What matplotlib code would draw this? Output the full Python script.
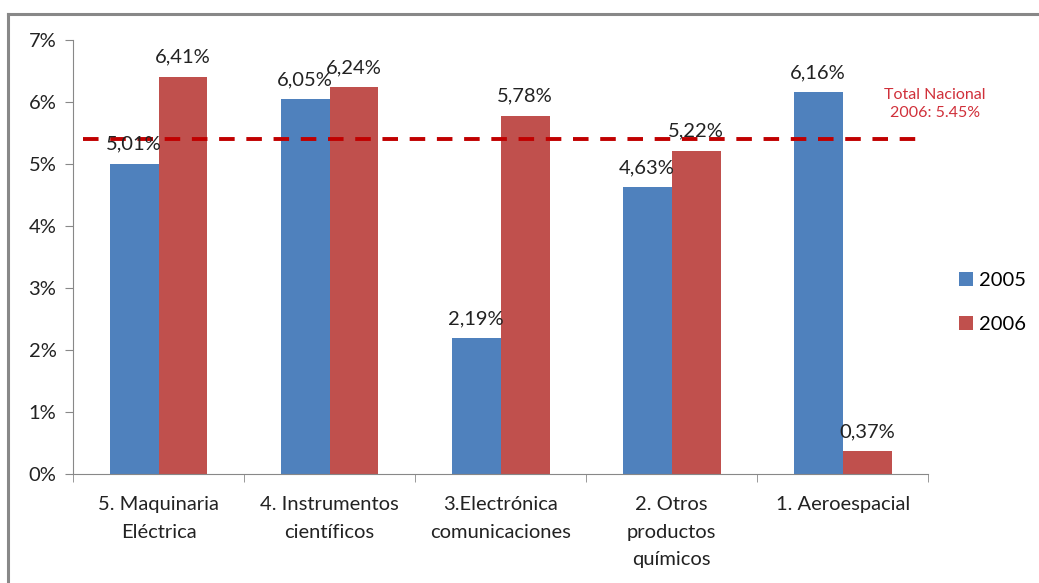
import matplotlib
matplotlib.use("Agg")
import matplotlib.pyplot as plt
from matplotlib.lines import Line2D
import numpy as np

# data
categorias = ["5. Maquinaria\nEléctrica", "4. Instrumentos\ncientíficos",
              "3.Electrónica\ncomunicaciones", "2. Otros\nproductos\nquímicos",
              "1. Aeroespacial"]
v2005 = [5.01, 6.05, 2.19, 4.63, 6.16]
v2006 = [6.41, 6.24, 5.78, 5.22, 0.37]
series = ["2005", "2006"]
total_nacional = 5.40
total_txt = "Total Nacional\n2006: 5.45%"
yticks = [0, 1, 2, 3, 4, 5, 6, 7]

plt.rcParams['font.family'] = ['Lato', 'DejaVu Sans']
fs = 14.5

fig = plt.figure(figsize=(10.39, 5.83), dpi=100)
ax = fig.add_axes([0.0703, 0.187, 0.823, 0.744])

x = np.arange(len(categorias))
w = 0.286
b1 = ax.bar(x - w / 2, v2005, w, color="#4F81BD", label=series[0])
b2 = ax.bar(x + w / 2, v2006, w, color="#C0504D", label=series[1])

for bars, vals in ((b1, v2005), (b2, v2006)):
    for r, v in zip(bars, vals):
        ax.annotate(("%.2f%%" % v).replace(".", ","),
                    (r.get_x() + r.get_width() / 2, v),
                    xytext=(0, 8), textcoords="offset points",
                    ha="center", va="bottom", fontsize=fs, color="#222222")

ax.axhline(total_nacional, xmin=0.012, xmax=0.998, color="#C00000",
           lw=2.8, ls=(0, (4, 3)))
ax.text(4.54, 5.97, total_txt, ha="center", va="center", clip_on=False,
        fontsize=11.5, color="#D0303A", linespacing=1.4)

ax.set_xlim(-0.5, 4.5)
ax.set_ylim(0, 7)
ax.set_yticks(yticks)
ax.set_yticklabels(["%d%%" % t for t in yticks], fontsize=fs, color="#222222")
ax.set_xticks(x)
ax.set_xticklabels(categorias, fontsize=fs, color="#222222", va="top",
                   linespacing=1.75)
ax.set_xticks(np.arange(-0.5, 5.0, 1), minor=True)
ax.tick_params(axis="x", which="major", length=0, pad=16)
ax.tick_params(axis="x", which="minor", length=6, color="#888888", direction="out")
ax.tick_params(axis="y", length=6, color="#888888", pad=6)
for s in ["top", "right"]:
    ax.spines[s].set_visible(False)
ax.spines["left"].set_color("#888888")
ax.spines["bottom"].set_color("#888888")

ax.legend(loc="center left", bbox_to_anchor=(1.015, 0.395), frameon=False,
          fontsize=fs, handlelength=0.7, handleheight=0.7, handletextpad=0.3,
          labelspacing=1.35)

# chart border
fig.add_artist(Line2D([0.008, 1.0], [0.976, 0.976], color="#888888", lw=2.2))
fig.add_artist(Line2D([0.008, 0.008], [0.0, 0.976], color="#888888", lw=2.2))

fig.savefig("out.png", dpi=100)
